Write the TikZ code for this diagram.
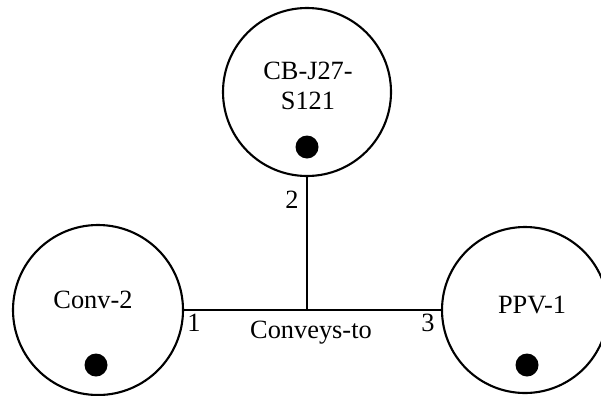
\documentclass[tikz,border=0pt]{standalone}
\usepackage{fontspec}
\setmainfont{Liberation Serif}
\usepackage{tikz}
\usetikzlibrary{positioning,calc}

\begin{document}
\begin{tikzpicture}[font=\fontsize{15}{17}\selectfont, line width=1.2pt,
  ent/.style={draw, circle, inner sep=0pt},
  dot/.style={circle, fill=black, minimum size=4.6mm, inner sep=0pt},
  num/.style={inner sep=1pt}]
\useasboundingbox (0,0) rectangle (12.02,7.9);
\node[ent, minimum size=3.36cm] (cb) at (6.14,6.06) {};
\node[ent, minimum size=3.40cm] (conv) at (1.96,1.70) {};
\node[ent, minimum size=3.32cm] (ppv) at (10.50,1.70) {};
\node[align=center] (cbt) at (6.16,6.18) {CB-J27-\\S121};
\node (convt) at (1.86,1.90) {Conv-2};
\node (ppvt) at (10.64,1.80) {PPV-1};
\node[dot] (cbd) at (6.14,4.96) {};
\node[dot] (convd) at (1.92,0.60) {};
\node[dot] (ppvd) at (10.54,0.60) {};
\coordinate (j) at (cb.south |- conv.east);
\draw (conv.east) -- (ppv.west);
\draw (cb.south) -- (j);
\node[num] (n1) at (3.88,1.44) {1};
\node[num] (n3) at (8.56,1.44) {3};
\node[num] (n2) at (5.84,3.90) {2};
\node (rel) at (6.22,1.24) {Conveys-to};
\end{tikzpicture}
\end{document}
